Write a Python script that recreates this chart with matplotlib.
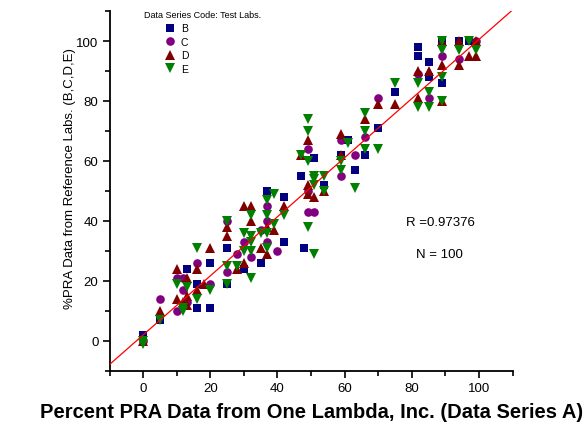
import matplotlib
matplotlib.use("Agg")
import matplotlib.pyplot as plt
from matplotlib.ticker import MultipleLocator
import numpy as np

plt.rcParams['font.family'] = ['Liberation Sans', 'DejaVu Sans']

# ---------------- data ----------------
series_names = ["B", "C", "D", "E"]

b_x = [0, 5, 13, 16, 16, 20, 20, 25, 25, 30, 35, 37, 42, 42, 47, 48, 51, 54, 61, 59, 63, 66, 70, 75, 82, 82, 85, 85, 89, 94, 97, 89]
b_y = [2, 7, 24, 19, 11, 26, 11, 31, 19, 24, 26, 50, 48, 33, 55, 31, 61, 52, 67, 62, 57, 62, 71, 83, 98, 95, 93, 88, 86, 100, 100, 100]

c_x = [0, 5, 10, 10, 12, 12, 13, 16, 20, 25, 25, 28, 30, 32, 35, 37, 37, 37, 40, 49, 51, 49, 49, 59, 59, 63, 66, 70, 82, 85, 89, 94, 99]
c_y = [0, 14, 21, 10, 21, 17, 13, 26, 19, 23, 40, 29, 33, 28, 37, 45, 40, 33, 30, 43, 43, 64, 50, 67, 55, 62, 68, 81, 89, 81, 95, 94, 100]

d_x = [0, 5, 10, 10, 12, 13, 13, 13, 16, 16, 18, 20, 25, 25, 28, 30, 30, 32, 32, 35, 37, 37, 39, 42, 47, 49, 49, 49, 51, 54,
       59, 59, 66, 70, 75, 82, 82, 85, 89, 89, 89, 94, 94, 97, 99, 99]
d_y = [0, 10, 24, 14, 13, 21, 15, 12, 24, 17, 19, 31, 38, 35, 24, 45, 26, 45, 40, 31, 38, 29, 37, 45, 62, 67, 49, 52, 48, 50,
       69, 62, 74, 79, 79, 90, 81, 90, 100, 92, 80, 100, 92, 95, 100, 95]

e_x = [0, 0, 5, 10, 12, 12, 13, 16, 16, 20, 25, 25, 25, 28, 30, 30, 32, 32, 32, 32, 32, 35, 37, 37, 37, 37, 39, 39, 42, 47,
       49, 49, 49, 49, 51, 51, 51, 51, 54, 54, 59, 59, 61, 63, 66, 66, 66, 70, 75, 82, 82, 85, 85, 89, 89, 89, 89, 94, 97, 99]
e_y = [0, -1, 7, 19, 11, 10, 18, 31, 14, 17, 40, 25, 19, 25, 36, 30, 42, 35, 33, 30, 21, 36, 47, 42, 36, 31, 49, 39, 42, 62,
       74, 70, 60, 38, 54, 52, 29, 55, 55, 50, 60, 57, 66, 51, 76, 70, 64, 64, 86, 86, 78, 83, 78, 100, 97, 88, 80, 97, 100, 97]

fit_slope = 0.985
fit_intercept = 2.0
r_value = "0.97376"
n_value = 100

colors = ["#000080", "#800080", "#800000", "#008000"]
markers = ["s", "o", "^", "v"]
msizes = [5.8, 6.2, 6.8, 6.8]

# ---------------- figure ----------------
W, H = 588, 431
fig = plt.figure(figsize=(W / 100, H / 100), dpi=100)
ax = fig.add_axes([109.5 / W, 1 - 372 / H, 403 / W, 360 / H])

all_x = [b_x, c_x, d_x, e_x]
all_y = [b_y, c_y, d_y, e_y]
handles = []
for xs, ys, c, m, ms, name in zip(all_x, all_y, colors, markers, msizes, series_names):
    h, = ax.plot(xs, ys, linestyle="none", marker=m, color=c, markersize=ms,
                 markeredgewidth=0, label=name, zorder=3)
    handles.append(h)

xl = np.array([-10, 110])
ax.plot(xl, fit_slope * xl + fit_intercept, color="red", lw=0.9, zorder=4)

ax.set_xlim(-10, 110)
ax.set_ylim(-10, 110)
ax.xaxis.set_minor_locator(MultipleLocator(10))
ax.yaxis.set_minor_locator(MultipleLocator(10))
ax.set_xticks([0, 20, 40, 60, 80, 100])
ax.set_yticks([0, 20, 40, 60, 80, 100])

for s in ["top", "right"]:
    ax.spines[s].set_visible(False)
for s in ["left", "bottom"]:
    ax.spines[s].set_linewidth(1.3)
ax.tick_params(which="major", direction="out", length=5, width=1.2, labelsize=9.5, pad=3)
ax.tick_params(which="minor", direction="out", length=3.5, width=1.2)

ax.set_ylabel("%PRA Data from Reference Labs. (B,C,D,E)", fontsize=9.5)
ax.yaxis.set_label_coords(-0.082, 0.536)

fig.text(312 / W, 1 - 413 / H, "Percent PRA Data from One Lambda, Inc. (Data Series A)",
         ha="center", va="center", fontsize=14.5, fontweight="bold")

fig.text(440 / W, 1 - 223 / H, "R =" + r_value, ha="center", va="center", fontsize=9.5)
fig.text(439 / W, 1 - 255 / H, "N = %d" % n_value, ha="center", va="center", fontsize=9.5)

fig.text(144 / W, 1 - 15 / H, "Data Series Code: Test Labs.", ha="left", va="center", fontsize=6.5)
leg = fig.legend(handles=handles, loc="upper left", bbox_to_anchor=(164 / W, 1 - 24.5 / H),
                 frameon=False, fontsize=7.5, handletextpad=0.4, labelspacing=0.33,
                 handlelength=1.2, borderpad=0, borderaxespad=0)

fig.savefig("out.png", dpi=100)
